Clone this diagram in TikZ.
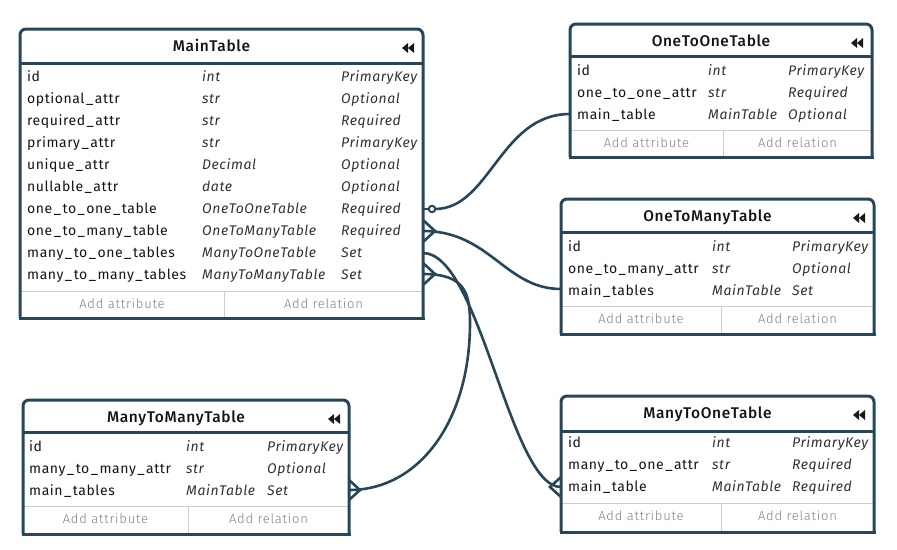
\documentclass[tikz,border=0pt]{standalone}
\usepackage{fontspec}
\setmainfont{Fira Sans}[LetterSpace=4]
\newfontfamily\titlefont{Fira Sans}[UprightFont=* Medium,LetterSpace=4]
\newfontfamily\footfont{Fira Sans}[UprightFont=* Light,LetterSpace=6]
\newcommand{\us}{\kern1.5pt\_\kern1.5pt}
\definecolor{erline}{RGB}{38,70,90}
\definecolor{ersep}{RGB}{205,205,205}
\tikzset{
  frame/.style={draw=erline,line width=3pt},
  sepline/.style={draw=ersep,line width=1pt},
  rowname/.style={anchor=base west,inner sep=0pt,font=\fontsize{14}{16}\selectfont,text=black!92},
  rowtype/.style={anchor=base west,inner sep=0pt,font=\fontsize{14}{16}\selectfont\itshape,text=black!80},
  titletext/.style={anchor=base,inner sep=0pt,font=\titlefont\fontsize{15.5}{17}\selectfont,text=black!92},
  foottext/.style={anchor=base,inner sep=0pt,font=\footfont\fontsize{13}{14}\selectfont,text=black!50},
  icon/.style={fill=black!90},
  conn/.style={draw=erline,line width=2.6pt},
}
\newcommand{\ERframe}[9]{%
  \draw[sepline] (#2,#7) -- (#4,#7);
  \draw[sepline] (#8,#7) -- (#8,#5);
  \draw[frame,rounded corners=6pt] (#2,#5) -- (#2,#3) -- (#4,#3) -- (#4,#5);
  \draw[frame,line cap=rect] (#2,#5) -- (#4,#5);
  \draw[frame] (#2,#6) -- (#4,#6);
  \node[titletext] (#1title) at ({(#2+#4)/2-10},{#3+22.5}) {#9};
  \fill[icon] ({#4-21},{#3+19}) -- ++(6,-5) -- ++(0,10) -- cycle;
  \fill[icon] ({#4-15},{#3+19}) -- ++(6,-5) -- ++(0,10) -- cycle;
  \node[foottext] (#1fa) at ({(#2+#8)/2},{#7+17.5}) {Add attribute};
  \node[foottext] (#1fr) at ({(#8+#4)/2},{#7+17.5}) {Add relation};
}
\newcommand{\ERrow}[8]{%
  \node[rowname] (#1n) at (#3,#2) {#4};
  \node[rowtype] (#1t) at (#5,#2) {#6};
  \node[rowtype] (#1c) at (#7,#2) {#8};
}
\begin{document}
\begin{tikzpicture}[x=1pt,y=-1pt]
\useasboundingbox (0,0) rectangle (897,549);

% ---------------- MainTable
\ERframe{main}{20}{29}{423}{318}{63}{291}{224}{MainTable}
\ERrow{mA}{81.5}{27}{id}{202}{int}{341}{PrimaryKey}
\ERrow{mB}{103.5}{27}{optional\us attr}{202}{str}{341}{Optional}
\ERrow{mC}{125.5}{27}{required\us attr}{202}{str}{341}{Required}
\ERrow{mD}{147.5}{27}{primary\us attr}{202}{str}{341}{PrimaryKey}
\ERrow{mE}{169.5}{27}{unique\us attr}{202}{Decimal}{341}{Optional}
\ERrow{mF}{191.5}{27}{nullable\us attr}{202}{date}{341}{Optional}
\ERrow{mG}{213.5}{27}{one\us to\us one\us table}{202}{OneToOneTable}{341}{Required}
\ERrow{mH}{235.5}{27}{one\us to\us many\us table}{202}{OneToManyTable}{341}{Required}
\ERrow{mI}{257.5}{27}{many\us to\us one\us tables}{202}{ManyToOneTable}{341}{Set}
\ERrow{mJ}{279.5}{27}{many\us to\us many\us tables}{202}{ManyToManyTable}{341}{Set}

% ---------------- OneToOneTable
\ERframe{oto}{570}{24}{872}{157}{56}{130}{723}{OneToOneTable}
\ERrow{oA}{75.5}{577}{id}{708}{int}{788}{PrimaryKey}
\ERrow{oB}{97.5}{577}{one\us to\us one\us attr}{708}{str}{788}{Required}
\ERrow{oC}{119.5}{577}{main\us table}{708}{MainTable}{788}{Optional}

% ---------------- OneToManyTable
\ERframe{otm}{561}{199}{874}{334}{232}{306}{721}{OneToManyTable}
\ERrow{pA}{251}{568}{id}{712}{int}{792}{PrimaryKey}
\ERrow{pB}{273}{568}{one\us to\us many\us attr}{712}{str}{792}{Optional}
\ERrow{pC}{295}{568}{main\us tables}{712}{MainTable}{792}{Set}

% ---------------- ManyToManyTable
\ERframe{mtm}{23}{400}{349}{534}{432}{506}{188}{ManyToManyTable}
\ERrow{qA}{451}{29}{id}{186}{int}{267}{PrimaryKey}
\ERrow{qB}{473}{29}{many\us to\us many\us attr}{186}{str}{267}{Optional}
\ERrow{qC}{495}{29}{main\us tables}{186}{MainTable}{267}{Set}

% ---------------- ManyToOneTable
\ERframe{mto}{561}{396}{874}{532}{431}{503}{721}{ManyToOneTable}
\ERrow{rA}{447.5}{568}{id}{712}{int}{792}{PrimaryKey}
\ERrow{rB}{469.5}{568}{many\us to\us one\us attr}{712}{str}{792}{Required}
\ERrow{rC}{491.5}{568}{main\us table}{712}{MainTable}{792}{Required}

% ---------------- connector end points
\coordinate (c1a) at (423,209);
\coordinate (c1o) at (432,209);
\coordinate (c1s) at (435,209);
\coordinate (c1b) at (570,114);
\coordinate (c2a) at (423,231);
\coordinate (c2b) at (561,289);
\coordinate (c3a) at (423,253);
\coordinate (c3b) at (561,487);
\coordinate (c4a) at (423,274);
\coordinate (c4m) at (470,323);
\coordinate (c4b) at (349,490);

% one-to-one
\draw[conn] (c1a) -- (c1o);
\draw[conn] (c1s) .. controls +(55,0) and +(-70,0) .. (c1b);
\draw[conn,line width=2pt,fill=white] (c1o) circle (3.2);

% one-to-many
\draw[conn] (c2a) .. controls +(67,0) and +(-56,0) .. (c2b);
\draw[conn] (c2a) ++(0,-11) -- ++(12,11) -- ++(-12,11);

% many-to-one
\draw[conn] (c3a) .. controls +(57,0) and +(-51,0) .. (c3b);
\draw[conn] (c3b) ++(0,-10) -- ++(-11,10) -- ++(11,10);

% many-to-many
\draw[conn] (c4a) .. controls +(42,0) and +(0,-30) .. (c4m)
                  .. controls +(0,97) and +(71,0) .. (c4b);
\draw[conn] (c4a) ++(0,-11) -- ++(12,11) -- ++(-12,11);
\draw[conn] (c4b) ++(0,-10) -- ++(11,10) -- ++(-11,10);
\end{tikzpicture}
\end{document}
